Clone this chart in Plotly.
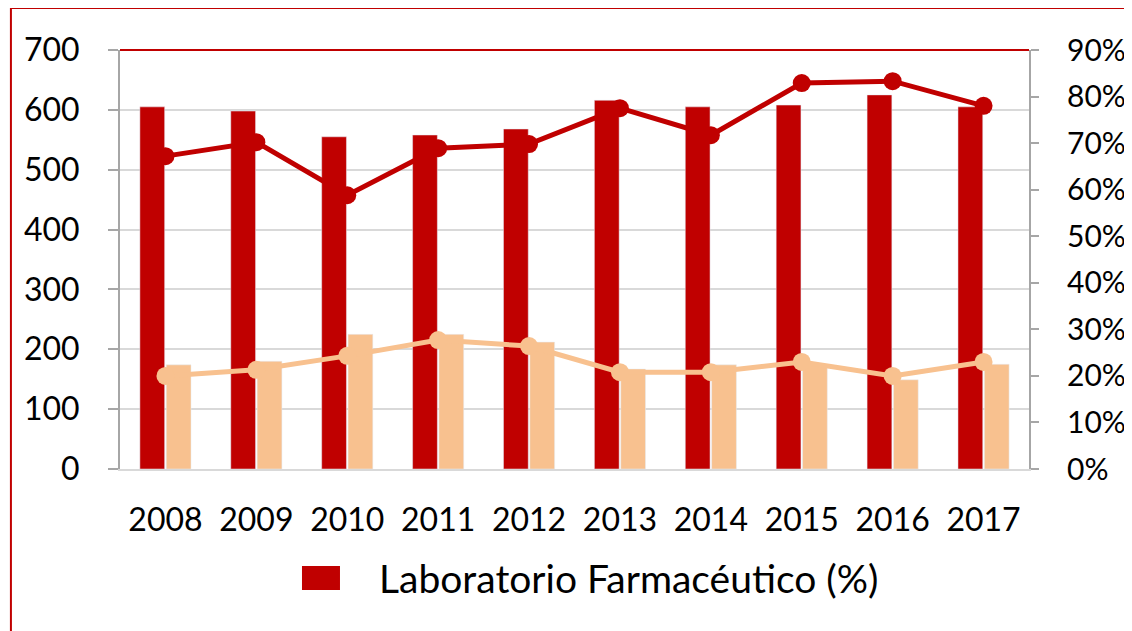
import plotly.graph_objects as go

years = ["2008", "2009", "2010", "2011", "2012", "2013", "2014", "2015", "2016", "2017"]
lab_counts = [605, 598, 555, 558, 568, 616, 605, 608, 625, 605]
other_counts = [174, 180, 225, 225, 212, 167, 174, 174, 149, 175]
lab_share = [0.672, 0.702, 0.588, 0.689, 0.698, 0.775, 0.717, 0.829, 0.833, 0.780]
other_share = [0.200, 0.213, 0.243, 0.277, 0.264, 0.208, 0.208, 0.230, 0.200, 0.230]
legend_label = "Laboratorio Farmacéutico (%)"

DARK_RED = "#C00000"
PEACH = "#F8C18F"
FONT = "Lato"
FS = 32

fig = go.Figure()
fig.add_trace(go.Bar(x=years, y=lab_counts, name=legend_label,
                     marker=dict(color=DARK_RED), yaxis="y"))
fig.add_trace(go.Bar(x=years, y=other_counts, name="Otros",
                     marker=dict(color=PEACH), yaxis="y"))
fig.add_trace(go.Scatter(x=years, y=lab_share, mode="lines+markers",
                         line=dict(color=DARK_RED, width=5),
                         marker=dict(color=DARK_RED, size=18), yaxis="y2"))
fig.add_trace(go.Scatter(x=years, y=other_share, mode="lines+markers",
                         line=dict(color=PEACH, width=5),
                         marker=dict(color=PEACH, size=18), yaxis="y2"))

# page body adds an 8px offset, margins compensate for it
fig.update_layout(
    width=1132,
    height=631,
    margin=dict(l=112, r=111, t=42, b=170),
    paper_bgcolor="white",
    plot_bgcolor="white",
    font=dict(family=FONT, size=FS, color="black"),
    showlegend=False,
    barmode="group",
    bargap=0.42,
    bargroupgap=0.06,
    xaxis=dict(
        type="category", automargin=False,
        range=[-0.5, len(years) - 0.5],
        showline=True, linecolor="#d9d9d9", linewidth=2,
        ticks="", showgrid=False,
        ticklabelstandoff=22,
    ),
    yaxis=dict(
        range=[0, 700], dtick=100, automargin=False,
        showline=True, linecolor="#a6a6a6", linewidth=2,
        ticks="outside", ticklen=10, tickcolor="#a6a6a6", tickwidth=2,
        gridcolor="#d9d9d9", gridwidth=1.5,
        zeroline=False,
        ticklabelstandoff=22,
    ),
    yaxis2=dict(
        range=[0, 0.9], dtick=0.1, tickformat=".0%", automargin=False,
        overlaying="y", side="right",
        showline=True, linecolor="#a6a6a6", linewidth=2,
        ticks="outside", ticklen=8, tickcolor="#a6a6a6", tickwidth=2,
        showgrid=False, zeroline=False,
        tickfont=dict(size=30),
        ticklabelstandoff=22,
    ),
    shapes=[
        # red top border of the plot area
        dict(type="line", xref="paper", yref="paper", x0=0, x1=1, y0=1, y1=1,
             line=dict(color=DARK_RED, width=2)),
        # outer chart frame
        dict(type="rect", xref="paper", yref="paper", x0=-0.12, x1=1.13, y0=-0.42, y1=1.1,
             line=dict(color=DARK_RED, width=2)),
        # legend swatch
        dict(type="rect", xref="paper", yref="paper", x0=0.2002, x1=0.2420,
             y0=-0.2888, y1=-0.2315, fillcolor=DARK_RED, line=dict(width=0)),
    ],
    annotations=[
        dict(text=legend_label, xref="paper", yref="paper", x=0.2827, y=-0.26,
             xanchor="left", yanchor="middle", showarrow=False,
             font=dict(family=FONT, size=39, color="black")),
    ],
)

fig.write_html("out.html")
